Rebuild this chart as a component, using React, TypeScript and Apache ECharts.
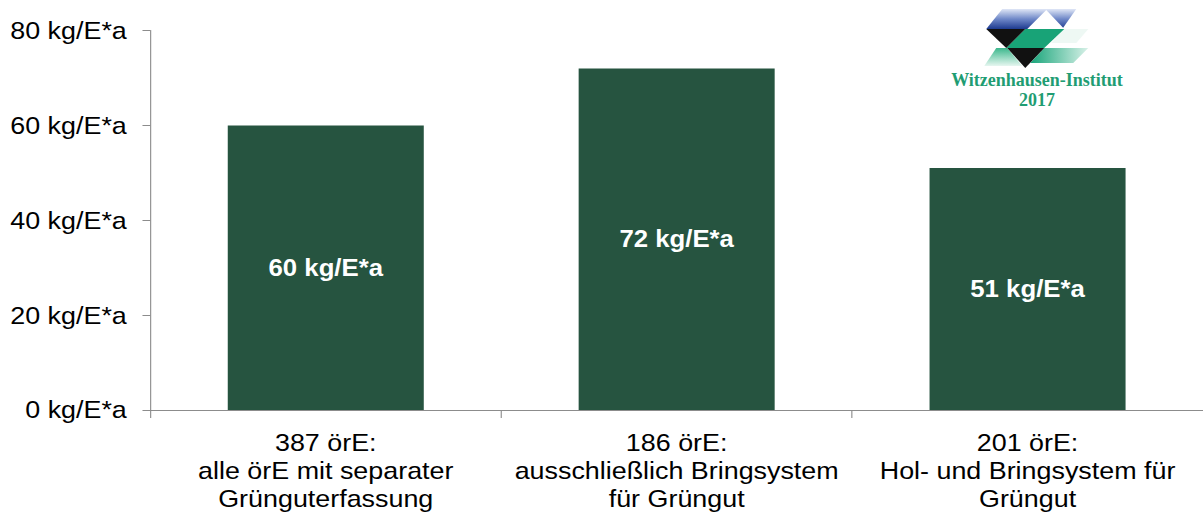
import React, { useEffect, useRef } from "react";
import * as echarts from "echarts";

// Categories (three groups of public waste authorities) and their per-capita green waste amounts
const categories: string[] = [
  "387 örE:\nalle örE mit separater\nGrünguterfassung",
  "186 örE:\nausschließlich Bringsystem\nfür Grüngut",
  "201 örE:\nHol- und Bringsystem für\nGrüngut",
];
const values: number[] = [60, 72, 51];
const unit = "kg/E*a";
const yTicks = { min: 0, max: 80, interval: 20 };

// The figure is laid out on a narrower canvas and stretched horizontally
const PAGE_W = 1203;
const PAGE_H = 516;
const CANVAS_W = 1074;
const S = PAGE_W / CANVAS_W;

const BAR = "#265440";
const AXIS = "#8c8c8c";
const FONT = '"Liberation Sans", Arial, Helvetica, sans-serif';

function logo(): any {
  const blue = new echarts.graphic.LinearGradient(0, 0, 0, 1, [
    { offset: 0, color: "#dfe6f6" },
    { offset: 0.5, color: "#6f88c8" },
    { offset: 1, color: "#1d3a8f" },
  ]);
  const greenFadeRight = new echarts.graphic.LinearGradient(0, 0, 1, 0, [
    { offset: 0, color: "#19a57a" },
    { offset: 1, color: "#d8f1e8" },
  ]);
  const greenFadeDown = new echarts.graphic.LinearGradient(0, 0, 0, 1, [
    { offset: 0, color: "#3cb88d" },
    { offset: 1, color: "#e6f6f0" },
  ]);
  const poly = (points: number[][], fill: any) => ({
    type: "polygon",
    shape: { points },
    style: { fill },
  });
  return {
    type: "group",
    x: 0,
    y: 0,
    scaleX: 1 / S,
    silent: true,
    children: [
      // top blue band with white notch
      poly([[1002, 9], [1076, 9], [1062, 29], [986, 29]], blue),
      poly([[1046, 10], [1027, 29], [1064, 29]], "#ffffff"),
      // middle row
      poly([[1063, 29], [1088, 29], [1076, 43], [1051, 43]], "#eef8f4"),
      poly([[1025, 29], [1064, 29], [1044, 48], [1006, 48]], "#18a377"),
      poly([[986, 29], [1025, 29], [1006, 48]], "#111111"),
      // lower row
      poly([[1044, 48], [1088, 48], [1073, 63], [1030, 63]], greenFadeRight),
      poly([[996, 48], [1007, 48], [1022, 66], [984, 66]], greenFadeDown),
      poly([[1007, 48], [1044, 48], [1025, 68]], "#111111"),
      {
        type: "text",
        x: 1037,
        y: 80,
        style: {
          text: "Witzenhausen-Institut",
          fill: "#1f9d73",
          font: 'bold 18px "Liberation Serif", "Times New Roman", serif',
          textAlign: "center",
          textVerticalAlign: "middle",
        },
      },
      {
        type: "text",
        x: 1037,
        y: 100.5,
        style: {
          text: "2017",
          fill: "#1f9d73",
          font: 'bold 18px "Liberation Serif", "Times New Roman", serif',
          textAlign: "center",
          textVerticalAlign: "middle",
        },
      },
    ],
  };
}

export default function App() {
  const ref = useRef<HTMLDivElement>(null);

  useEffect(() => {
    if (!ref.current) return;
    const chart = echarts.init(ref.current, null, { renderer: "svg" });
    chart.setOption({
      animation: false,
      backgroundColor: "#ffffff",
      grid: {
        left: 134.2,
        right: -3.9,
        top: 30.5,
        bottom: 106,
        containLabel: false,
      },
      xAxis: {
        type: "category",
        data: categories,
        axisLine: { show: true, lineStyle: { color: AXIS, width: 1 } },
        axisTick: {
          show: true,
          alignWithLabel: false,
          interval: 0,
          length: 8,
          lineStyle: { color: AXIS, width: 1 },
        },
        axisLabel: {
          interval: 0,
          margin: 19,
          color: "#000000",
          fontFamily: FONT,
          fontSize: 24,
          lineHeight: 28,
        },
      },
      yAxis: {
        type: "value",
        min: yTicks.min,
        max: yTicks.max,
        interval: yTicks.interval,
        splitLine: { show: false },
        axisLine: { show: true, lineStyle: { color: AXIS, width: 1 } },
        axisTick: { show: true, length: 7, lineStyle: { color: AXIS, width: 1 } },
        axisLabel: {
          margin: 21,
          color: "#000000",
          fontFamily: FONT,
          fontSize: 24,
          formatter: (v: number) => `${v} ${unit}`,
        },
      },
      series: [
        {
          type: "bar",
          data: values,
          barWidth: 175,
          itemStyle: { color: BAR },
          label: {
            show: true,
            position: "inside",
            color: "#ffffff",
            fontFamily: FONT,
            fontWeight: "bold",
            fontSize: 23,
            formatter: (p: any) => `${p.value} ${unit}`,
          },
        },
      ],
      graphic: [logo()],
    });
    return () => chart.dispose();
  }, []);

  return (
    <div
      style={{
        position: "fixed",
        left: 0,
        top: 0,
        width: PAGE_W,
        height: PAGE_H,
        overflow: "hidden",
        background: "#ffffff",
      }}
    >
      <div
        ref={ref}
        style={{
          width: CANVAS_W,
          height: PAGE_H,
          transform: `scaleX(${S})`,
          transformOrigin: "0 0",
        }}
      />
    </div>
  );
}
